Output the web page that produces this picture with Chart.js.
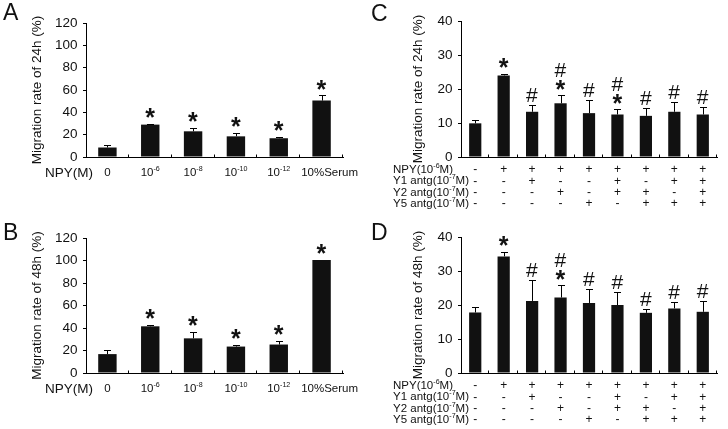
<!DOCTYPE html>
<html><head><meta charset="utf-8">
<script src="https://cdn.jsdelivr.net/npm/chart.js@4.4.1/dist/chart.umd.min.js"></script>
<style>
html,body{margin:0;padding:0;background:#fff;width:728px;height:429px;overflow:hidden}
.p{position:absolute}
canvas{display:block}
</style></head><body>
<div class="p" style="left:0;top:0"><canvas id="cA" width="364" height="214"></canvas></div>
<div class="p" style="left:364px;top:0"><canvas id="cC" width="364" height="214"></canvas></div>
<div class="p" style="left:0;top:214px"><canvas id="cB" width="364" height="215"></canvas></div>
<div class="p" style="left:364px;top:214px"><canvas id="cD" width="364" height="215"></canvas></div>
<script>
// ---------- data ----------
const dosesAB = ['0', '10^-6', '10^-8', '10^-10', '10^-12', '10%Serum'];
const rate24A = [8.5, 29, 23, 18.5, 16.8, 50.5];
const err24A  = [2.5, 1, 3, 3, 1.5, 5];
const sig24A  = ['', '*', '*', '*', '*', '*'];
const rate48B = [16.8, 41.5, 30.8, 23.5, 25.3, 100.5];
const err48B  = [4, 1.5, 6, 1.8, 3.5, 0];
const sig48B  = ['', '*', '*', '*', '*', '*'];
const ticksAB = [0, 20, 40, 60, 80, 100, 120];

const rowNames = ['NPY(10^-6M)', 'Y1 antg(10^-7M)', 'Y2 antg(10^-7M)', 'Y5 antg(10^-7M)'];
const npyRow = ['-', '+', '+', '+', '+', '+', '+', '+', '+'];
const y1Row  = ['-', '-', '+', '-', '-', '+', '-', '+', '+'];
const y2Row  = ['-', '-', '-', '+', '-', '+', '+', '-', '+'];
const y5Row  = ['-', '-', '-', '-', '+', '-', '+', '+', '+'];
const rate24C = [9.9, 24.0, 13.3, 15.8, 12.9, 12.5, 12.1, 13.3, 12.5];
const err24C  = [1.1, 0.5, 2.0, 2.3, 3.9, 1.6, 2.2, 3.0, 2.3];
const sig24C  = ['', '*', '#', '*#', '#', '*#', '#', '#', '#'];
const rate48D = [17.8, 34.3, 21.2, 22.2, 20.6, 20.0, 17.7, 19.0, 18.0];
const err48D  = [1.6, 1.3, 6.2, 3.6, 4.0, 3.8, 1.0, 1.8, 3.1];
const sig48D  = ['', '*', '#', '*#', '#', '#', '#', '#', '#'];
const ticksCD = [0, 10, 20, 30, 40];

const FF = '"Liberation Sans", Arial, Helvetica, sans-serif';
const INK = '#111';

function glyph(ctx, ch, x, cy, font) {
  ctx.font = font;
  ctx.textAlign = 'left'; ctx.textBaseline = 'alphabetic';
  const m = ctx.measureText(ch);
  const l = m.actualBoundingBoxLeft, r = m.actualBoundingBoxRight;
  const a = m.actualBoundingBoxAscent, d = m.actualBoundingBoxDescent;
  ctx.fillText(ch, x - (r - l) / 2, cy + (a - d) / 2);
}

// text with "^-6" style superscripts
function parts(str) {
  const out = [];
  const re = /\^([-0-9]+)/g;
  let last = 0, m;
  while ((m = re.exec(str))) {
    if (m.index > last) out.push({ t: str.slice(last, m.index), sup: false });
    out.push({ t: m[1], sup: true });
    last = re.lastIndex;
  }
  if (last < str.length) out.push({ t: str.slice(last), sup: false });
  return out;
}
function rich(ctx, str, x, y, size, align) {
  const ps = parts(str);
  const sup = Math.round(size * 0.62 * 10) / 10;
  ctx.textBaseline = 'middle'; ctx.textAlign = 'left';
  let w = 0;
  ps.forEach(p => { ctx.font = (p.sup ? sup : size) + 'px ' + FF; p.w = ctx.measureText(p.t).width; w += p.w; });
  let cx = align === 'center' ? x - w / 2 : x;
  ps.forEach(p => {
    ctx.font = (p.sup ? sup : size) + 'px ' + FF;
    ctx.fillText(p.t, cx, p.sup ? y - size * 0.33 : y);
    cx += p.w;
  });
}

const deco = {
  id: 'deco',
  afterDatasetsDraw(chart, args, o) {
    const ctx = chart.ctx, ys = chart.scales.y;
    const meta = chart.getDatasetMeta(0);
    ctx.save();
    ctx.strokeStyle = '#000'; ctx.fillStyle = INK; ctx.lineWidth = 1;
    meta.data.forEach((bar, i) => {
      const v = o.values[i], e = o.errors[i];
      const x = Math.round(bar.x) + 0.5;
      const yTop = ys.getPixelForValue(v + e);
      if (e > 0) {
        ctx.beginPath();
        ctx.moveTo(x, ys.getPixelForValue(v));
        ctx.lineTo(x, Math.round(yTop) + 0.5);
        ctx.moveTo(x - 3.5, Math.round(yTop) + 0.5);
        ctx.lineTo(x + 3.5, Math.round(yTop) + 0.5);
        ctx.stroke();
      }
      let cy = null;
      for (const ch of o.marks[i]) {
        if (cy === null) cy = yTop - (ch === '*' ? 10.5 : 10);
        else cy -= 14.5;
        glyph(ctx, ch, bar.x, cy, ch === '*' ? 'bold 25px ' + FF : '21px ' + FF);
      }
    });
    ctx.restore();
  },
  afterDraw(chart, args, o) {
    const ctx = chart.ctx, xs = chart.scales.x, ca = chart.chartArea;
    ctx.save();
    ctx.strokeStyle = '#000'; ctx.lineWidth = 1; ctx.fillStyle = INK;
    // inward category boundary ticks on x axis
    const n = chart.data.labels.length;
    const yb = Math.round(ca.bottom) + 0.5;
    ctx.beginPath();
    for (let i = 1; i <= n; i++) {
      const x = Math.round(xs.left + i * (xs.right - xs.left) / n) - 0.5;
      ctx.moveTo(x, yb); ctx.lineTo(x, yb - 3);
    }
    ctx.stroke();
    // category labels with superscripts (single-line axes)
    if (o.richLabels) {
      chart.data.labels.forEach((lab, i) => {
        const shift = (o.labelShift && o.labelShift[i]) || 0;
        rich(ctx, lab, xs.getPixelForTick(i) + shift, xs.top + o.xPad + o.rowLH / 2, o.xFont, 'center');
      });
    }
    // panel letter
    ctx.font = '23px ' + FF; ctx.textAlign = 'left'; ctx.textBaseline = 'alphabetic';
    ctx.fillText(o.letter, o.letterX, o.letterY);
    // row labels of the x axis
    o.rows.forEach((t, i) => {
      rich(ctx, t, o.rowX, xs.top + o.xPad + o.rowLH * (i + 0.5), o.rowFont, 'left');
    });
    ctx.restore();
  }
};

function makeChart(id, c) {
  return new Chart(document.getElementById(id), {
    type: 'bar',
    data: { labels: c.labels, datasets: [{ data: c.values, backgroundColor: INK, borderWidth: 0,
      barPercentage: 0.43, categoryPercentage: 1 }] },
    options: {
      responsive: false, animation: false, events: [],
      layout: { padding: { left: 0, right: c.padR, top: c.padT, bottom: 0 } },
      plugins: {
        legend: { display: false }, tooltip: { enabled: false },
        deco: { values: c.values, errors: c.errors, marks: c.marks, richLabels: c.richLabels,
          labelShift: c.labelShift, xFont: c.xFont, letter: c.letter, letterX: c.letterX, letterY: c.letterY,
          rows: c.rows, rowX: c.rowX, rowFont: c.rowFont, rowLH: c.xLH, xPad: c.xPad }
      },
      scales: {
        x: {
          grid: { display: false, drawTicks: false },
          border: { display: true, color: '#000', width: 1 },
          ticks: { display: !c.richLabels, color: INK, autoSkip: false, maxRotation: 0, padding: c.xPad,
            font: { family: FF, size: c.xFont, lineHeight: c.xLH + 'px' } },
          afterFit(s) { s.height = c.xH; }
        },
        y: {
          min: 0, max: c.ticks[c.ticks.length - 1],
          grid: { display: true, drawOnChartArea: false, drawTicks: true, tickLength: 3, color: '#000' },
          border: { display: true, color: '#000', width: 1 },
          ticks: { color: INK, padding: 5.5, font: { family: FF, size: 13.5 } },
          title: { display: true, text: c.title, color: INK, font: { family: FF, size: 13.5 },
            padding: { top: c.titlePad, bottom: 0 } },
          afterBuildTicks(s) { s.ticks = c.ticks.map(v => ({ value: v })); },
          afterFit(s) { s.width = c.yW; }
        }
      }
    },
    plugins: [deco]
  });
}

const combos = npyRow.map((v, i) => [v, y1Row[i], y2Row[i], y5Row[i]]);
const shiftAB = [0, 0, 0, 0, 0, 8];

makeChart('cA', { labels: dosesAB, richLabels: true, labelShift: shiftAB, values: rate24A, errors: err24A, marks: sig24A, ticks: ticksAB,
  title: 'Migration rate of 24h (%)', titlePad: 29, yW: 86, padR: 21, padT: 23, xH: 57,
  xFont: 11.5, xLH: 14, xPad: 9, letter: 'A', letterX: 3, letterY: 20,
  rows: ['NPY(M)'], rowX: 45, rowFont: 13.5 });
makeChart('cB', { labels: dosesAB, richLabels: true, labelShift: shiftAB, values: rate48B, errors: err48B, marks: sig48B, ticks: ticksAB,
  title: 'Migration rate of 48h (%)', titlePad: 29, yW: 86, padR: 21, padT: 24, xH: 56,
  xFont: 11.5, xLH: 14, xPad: 9, letter: 'B', letterX: 3, letterY: 26,
  rows: ['NPY(M)'], rowX: 45, rowFont: 13.5 });
makeChart('cC', { labels: combos, richLabels: false, values: rate24C, errors: err24C, marks: sig24C, ticks: ticksCD,
  title: 'Migration rate of 24h (%)', titlePad: 46, yW: 97, padR: 11, padT: 21, xH: 57,
  xFont: 12, xLH: 11.2, xPad: 7.5, letter: 'C', letterX: 7, letterY: 21,
  rows: rowNames, rowX: 29, rowFont: 11.5 });
makeChart('cD', { labels: combos, richLabels: false, values: rate48D, errors: err48D, marks: sig48D, ticks: ticksCD,
  title: 'Migration rate of 48h (%)', titlePad: 46, yW: 97, padR: 11, padT: 23, xH: 56,
  xFont: 12, xLH: 11.2, xPad: 7.5, letter: 'D', letterX: 7, letterY: 26,
  rows: rowNames, rowX: 29, rowFont: 11.5 });
</script>
</body></html>
